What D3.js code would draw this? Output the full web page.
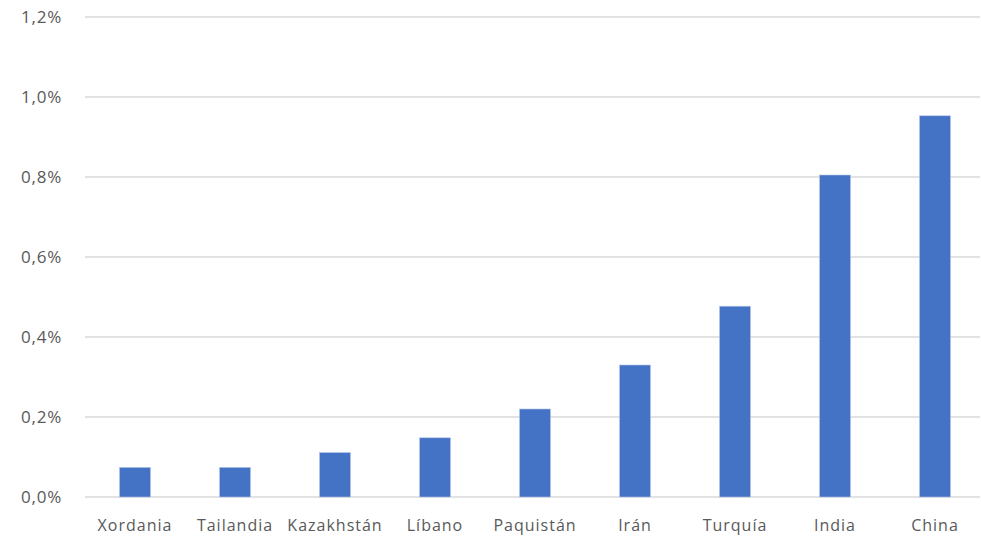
<!DOCTYPE html>
<html>
<head>
<meta charset="utf-8">
<script src="https://cdn.jsdelivr.net/npm/d3@7"></script>
<style>
  body { margin: 0; background: #fff; }
  text { font-family: "Open Sans", Lato, sans-serif; fill: #595959; }
</style>
</head>
<body>
<svg id="chart" width="981" height="547"></svg>
<script>
// data (percent)
var countries = ["Xordania", "Tailandia", "Kazakhstán", "Líbano", "Paquistán", "Irán", "Turquía", "India", "China"];
var shares = [0.074, 0.074, 0.111, 0.148, 0.22, 0.33, 0.477, 0.805, 0.953];
var yTicks = [0, 0.2, 0.4, 0.6, 0.8, 1.0, 1.2];

var svg = d3.select("#chart");
var plotLeft = 85, plotRight = 985, plotTop = 17, plotBottom = 497;

var x = d3.scaleBand().domain(countries).range([plotLeft, plotRight]).paddingInner(0.69).paddingOuter(0.345);
var y = d3.scaleLinear().domain([0, 1.2]).range([plotBottom, plotTop]);

var fmt = function(d) { return d3.format(".1f")(d).replace(".", ",") + "%"; };

// gridlines
svg.append("g").selectAll("line")
    .data(yTicks)
    .enter().append("line")
    .attr("x1", plotLeft).attr("x2", 980)
    .attr("y1", function(d) { return y(d); })
    .attr("y2", function(d) { return y(d); })
    .attr("stroke", "#d9d9d9")
    .attr("stroke-width", 1.5);

// y labels
svg.append("g").selectAll("text")
    .data(yTicks)
    .enter().append("text")
    .attr("x", 62)
    .attr("y", function(d) { return y(d); })
    .attr("dy", "0.36em")
    .attr("text-anchor", "end")
    .style("font-size", "17px")
    .style("letter-spacing", "0.8px")
    .text(fmt);

// bars
svg.append("g").selectAll("rect")
    .data(shares)
    .enter().append("rect")
    .attr("x", function(d, i) { return x(countries[i]); })
    .attr("width", x.bandwidth())
    .attr("y", function(d) { return y(d); })
    .attr("height", function(d) { return y(0) - y(d); })
    .attr("fill", "#4472c4")
    .attr("stroke", "#b4c7e7")
    .attr("stroke-width", 0.6);

// category labels
svg.append("g").selectAll("text")
    .data(countries)
    .enter().append("text")
    .attr("x", function(d) { return x(d) + x.bandwidth() / 2; })
    .attr("y", 531)
    .attr("text-anchor", "middle")
    .style("font-size", "16px")
    .style("letter-spacing", "1px")
    .text(function(d) { return d; });
</script>
</body>
</html>
